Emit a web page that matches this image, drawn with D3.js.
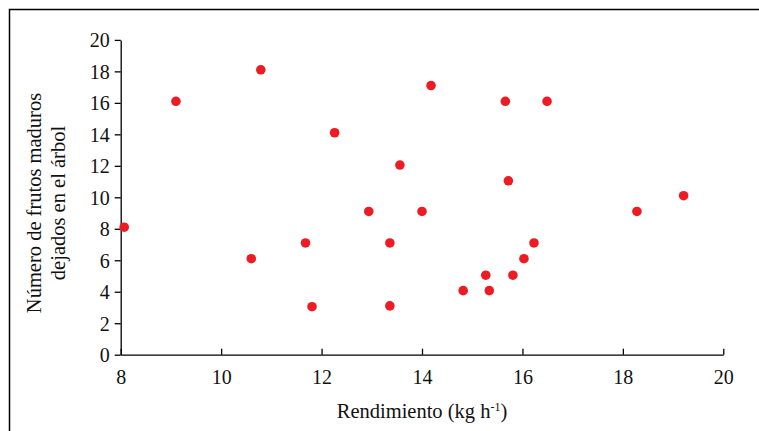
<!DOCTYPE html>
<html>
<head>
<meta charset="utf-8">
<script src="https://cdn.jsdelivr.net/npm/d3@7"></script>
<style>
  body { margin: 0; background: #fff; }
  svg text { font-family: "Liberation Serif", "Times New Roman", serif; fill: #111; }
</style>
</head>
<body>
<div id="chart"></div>
<script>
// rendimiento (kg h-1) vs frutos maduros dejados en el arbol
var rendimiento = [8.07, 9.1, 10.79, 10.6, 11.68, 11.81, 12.26, 12.94, 13.36, 13.36, 13.56, 14.0,
  14.18, 14.82, 15.27, 15.34, 15.66, 15.72, 15.81, 16.03, 16.23, 16.49, 18.28, 19.21];
var frutos = [8.1, 16.1, 18.1, 6.1, 7.1, 3.05, 14.1, 9.1, 7.1, 3.1, 12.05, 9.1,
  17.1, 4.07, 5.05, 4.07, 16.1, 11.05, 5.05, 6.1, 7.1, 16.1, 9.1, 10.1];
var xTicks = [8, 10, 12, 14, 16, 18, 20];
var yTicks = [0, 2, 4, 6, 8, 10, 12, 14, 16, 18, 20];

var width = 759,
  height = 431;

var svg = d3.select('#chart')
  .append('svg')
  .attr('width', width)
  .attr('height', height);

// marco
svg.append('rect')
  .attr('x', 9.5)
  .attr('y', 9.5)
  .attr('width', 760)
  .attr('height', 440)
  .attr('fill', 'none')
  .attr('stroke', '#000')
  .attr('stroke-width', 1.5);

var xScale = d3.scaleLinear().domain([8, 20]).range([120.7, 723.3]);
var yScale = d3.scaleLinear().domain([0, 20]).range([354.7, 39.9]);

var xAxis = d3.axisBottom(xScale).tickValues(xTicks).tickSize(-6).tickPadding(15).tickSizeOuter(0);
var yAxis = d3.axisLeft(yScale).tickValues(yTicks).tickSize(6).tickPadding(5).tickSizeOuter(0);

var gx = svg.append('g')
  .attr('transform', 'translate(0,' + yScale(0) + ')')
  .call(xAxis);

var gy = svg.append('g')
  .attr('transform', 'translate(' + xScale(8) + ',0)')
  .call(yAxis);

[gx, gy].forEach(function (g) {
  g.select('.domain').attr('stroke', '#000').attr('stroke-width', 1.3);
  g.selectAll('.tick line').attr('stroke', '#000').attr('stroke-width', 1.3);
  g.selectAll('.tick text')
    .style('font-family', '"Liberation Serif", "Times New Roman", serif')
    .style('font-size', '20px')
    .attr('fill', '#111');
});
gx.selectAll('.tick text').attr('dy', '0.71em');
gy.selectAll('.tick text').attr('dy', '0.34em');

// titulos de ejes
var xl = svg.append('text')
  .attr('x', 422)
  .attr('y', 418)
  .attr('text-anchor', 'middle')
  .style('font-size', '20.5px');
xl.append('tspan').text('Rendimiento (kg h');
xl.append('tspan').attr('dy', -7).style('font-size', '12px').text('-1');
xl.append('tspan').attr('dy', 7).text(')');

var yl = svg.append('text')
  .attr('transform', 'translate(41,203) rotate(-90)')
  .attr('text-anchor', 'middle')
  .style('font-size', '20.5px');
yl.append('tspan').attr('x', 0).attr('y', 0).text('Número de frutos maduros');
yl.append('tspan').attr('x', 0).attr('y', 24).text('dejados en el árbol');

// puntos
svg.append('g')
  .selectAll('circle')
  .data(rendimiento)
  .enter()
  .append('circle')
  .attr('cx', function (d) { return xScale(d); })
  .attr('cy', function (d, i) { return yScale(frutos[i]); })
  .attr('r', 4.8)
  .attr('fill', '#ED1C24');
</script>
</body>
</html>
